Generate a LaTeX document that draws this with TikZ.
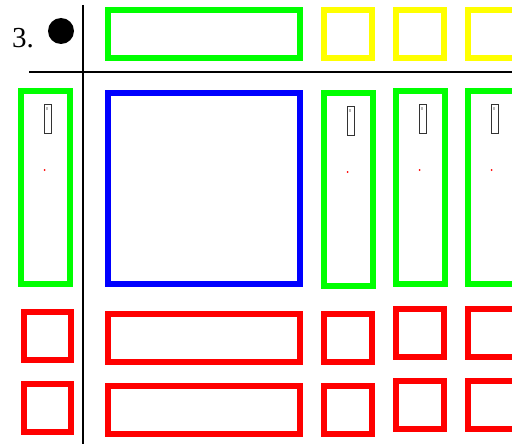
\documentclass[tikz,border=0pt]{standalone}
\usepackage{fontspec}
\setmainfont{Liberation Serif}
\usetikzlibrary{calc}
\definecolor{BoxGreen}{HTML}{00FF00}
\definecolor{BoxYellow}{HTML}{FFFF00}
\definecolor{BoxBlue}{HTML}{0000FF}
\definecolor{BoxRed}{HTML}{FF0000}
\tikzset{
 frame/.style={line width=5.6pt},
 greenbox/.style={frame, draw=BoxGreen},
 yellowbox/.style={frame, draw=BoxYellow},
 bluebox/.style={frame, draw=BoxBlue},
 redbox/.style={frame, draw=BoxRed},
 rule/.style={line width=2pt, draw=black},
 tag/.style={draw=black!80, line width=0.8pt, fill=white, minimum width=7pt, minimum height=29pt, inner sep=0pt},
 reddot/.style={fill=BoxRed}
}
\begin{document}
\begin{tikzpicture}[x=1pt,y=-1pt]
\useasboundingbox (0,0) rectangle (512,444);
% header
\node[font=\fontsize{29}{30}\selectfont, inner sep=0pt] (num) at (23,38.5) {3.};
\fill (61,31) circle (13pt);
\draw[rule] (83,5) -- (83,444);
\draw[rule] (29,72.5) -- (512,72.5);
% top row
\draw[greenbox] (108,10) rectangle (300,58);
\foreach \x in {324,396,468}{\draw[yellowbox] (\x,10) rectangle ++(48,48);}
% middle row
\draw[bluebox] (108,93) rectangle (300,284);
\foreach \x/\y in {21/91,324/93,396/91,468/91}{
 \draw[greenbox] (\x,\y) rectangle ++(49,193);
 \node[tag] (tag\x) at (\x+26.5,\y+28) {};
 \fill[gray!55] ($(tag\x.north west)+(2.5,2.5)$) rectangle ++(2,3);
 \fill[reddot] (\x+23.5,\y+79) circle (1pt);
}
% bottom rows
\foreach \y in {312,384}{
 \draw[redbox] (24,\y) rectangle ++(47,48);
 \draw[redbox] (108,\y+2) rectangle ++(192,48);
 \draw[redbox] (324,\y+2) rectangle ++(48,48);
 \draw[redbox] (396,\y-3) rectangle ++(48,48);
 \draw[redbox] (468,\y-3) rectangle ++(48,48);
}
\end{tikzpicture}
\end{document}
